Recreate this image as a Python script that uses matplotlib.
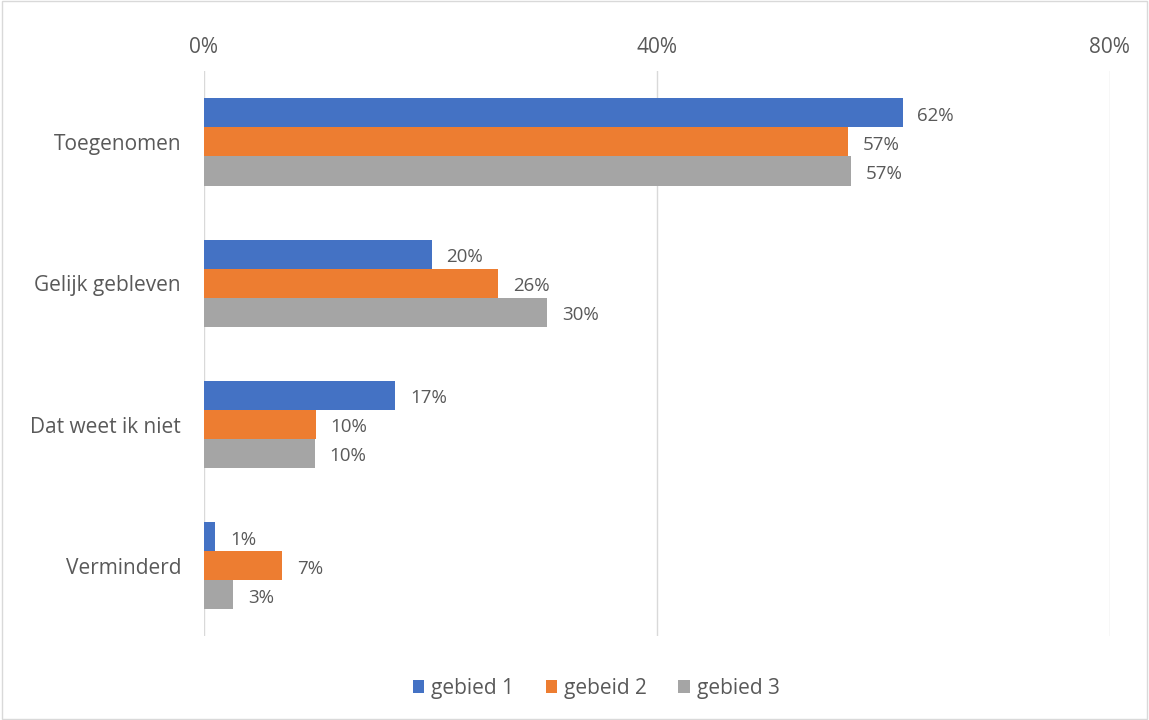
import matplotlib.pyplot as plt
import numpy as np

categories = ["Toegenomen", "Gelijk gebleven", "Dat weet ik niet", "Verminderd"]
series_names = ["gebied 1", "gebeid 2", "gebied 3"]
gebied1 = [61.7, 20.1, 16.9, 1.0]
gebied2 = [56.9, 26.0, 9.9, 6.9]
gebied3 = [57.1, 30.3, 9.8, 2.6]
colors = ["#4472C4", "#ED7D31", "#A5A5A5"]
ticks = [0, 40, 80]
tick_labels = ["0%", "40%", "80%"]

plt.rcParams['font.family'] = ['Open Sans', 'DejaVu Sans']
txt = "#595959"

fig = plt.figure(figsize=(11.49, 7.2), dpi=100)
ax = fig.add_axes([0.1775, 0.116, 0.966 - 0.1775, 0.901 - 0.116])

y = np.arange(len(categories))
h = 0.206
data = [gebied1, gebied2, gebied3]
for i, vals in enumerate(data):
    pos = y + (i - 1) * h
    ax.barh(pos, vals, height=h, color=colors[i], label=series_names[i], zorder=3)
    for p, v in zip(pos, vals):
        ax.text(v + 1.3, p + 0.02, f"{round(v):.0f}%", va="center", ha="left",
                fontsize=13.5, color=txt)

ax.set_ylim(3.5, -0.5)
ax.set_xlim(0, 80)
ax.set_yticks(y)
ax.set_yticklabels(categories, fontsize=15, color=txt)
ax.set_xticks(ticks)
ax.set_xticklabels(tick_labels, fontsize=15, color=txt)
ax.xaxis.tick_top()
ax.tick_params(axis="both", length=0)
ax.tick_params(axis="x", pad=9.5)
ax.tick_params(axis="y", pad=16.5)
ax.grid(axis="x", color="#D9D9D9", linewidth=1, zorder=0)
for s in ax.spines.values():
    s.set_visible(False)

fig.legend(loc="lower center", bbox_to_anchor=(0.519, 0.003), ncol=3, frameon=False,
           fontsize=15, labelcolor=txt, handlelength=0.55, handleheight=0.55,
           handletextpad=0.35, columnspacing=1.5)

fig.patches.append(plt.Rectangle((0.002, 0.002), 0.996, 0.996, transform=fig.transFigure,
                                 fill=False, edgecolor="#D9D9D9", linewidth=1))

fig.savefig("out.png", dpi=100)
